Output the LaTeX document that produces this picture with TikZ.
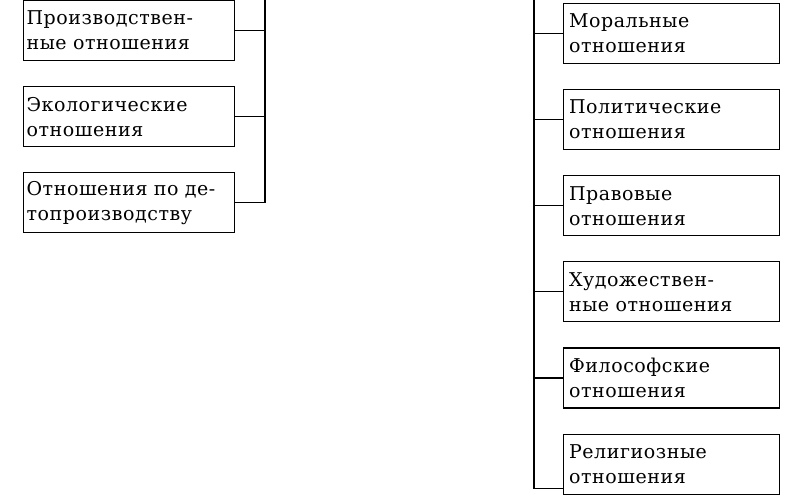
\documentclass[tikz,border=0pt]{standalone}
\usepackage{fontspec}
\setmainfont{DejaVu Serif}[LetterSpace=3]
\usetikzlibrary{positioning}
\tikzset{
  kind/.style={draw, line width=1.1pt, rectangle, anchor=north west, minimum width=211pt,
    minimum height=60pt, text width=205pt, align=left, inner sep=3pt,
    font=\fontsize{19}{25}\selectfont},
  link/.style={line width=1.1pt},
}
\begin{document}
\begin{tikzpicture}[x=1pt,y=1pt]
\useasboundingbox (0,0) rectangle (792,501);
% left group
\node[kind] (prod) at (23,501) {Производствен-\\ные отношения};
\node[kind, below=25pt of prod] (eco) {Экологические\\отношения};
\node[kind, below=25pt of eco] (deto) {Отношения по де-\\топроизводству};
\coordinate (ltop) at (265,501);
\draw[link] (ltop) |- (deto.east);
\draw[link] (prod.east) -- (prod.east -| ltop);
\draw[link] (eco.east) -- (eco.east -| ltop);
% right group
\node[kind, minimum width=216pt] (mor) at (563,498) {Моральные\\отношения};
\node[kind, minimum width=216pt, below=25pt of mor] (pol) {Политические\\отношения};
\node[kind, minimum width=216pt, below=25pt of pol] (prav) {Правовые\\отношения};
\node[kind, minimum width=216pt, below=25pt of prav] (hud) {Художествен-\\ные отношения};
\node[kind, minimum width=216pt, below=25pt of hud] (fil) {Философские\\отношения};
\node[kind, minimum width=216pt, below=25pt of fil] (rel) {Религиозные\\отношения};
\coordinate (rtop) at (534,501);
\draw[link] (rtop) |- ([yshift=6pt]rel.south west);
\foreach \b in {mor,pol,prav,hud,fil}
  \draw[link] (\b.west) -- (\b.west -| rtop);
\end{tikzpicture}
\end{document}
